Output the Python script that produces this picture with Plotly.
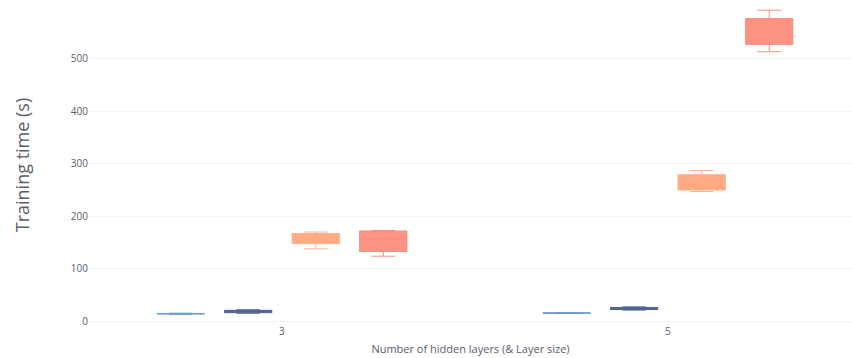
import plotly.graph_objects as go

# Hidden-layer configurations on the x axis
layers = ["3", "5"]

# Box statistics (seconds) per model, one value per layer configuration
series_names = ["Model A", "Model B", "Model C", "Model D"]
lower = [[13.5, 15.0], [15.5, 21.5], [138, 247], [124, 513]]
q1 = [[14.0, 15.3], [16.5, 22.5], [148, 250], [133, 527]]
median = [[14.6, 15.8], [19.0, 24.5], [163, 266], [156, 551]]
q3 = [[15.0, 16.3], [21.0, 26.5], [167, 279], [172, 576]]
upper = [[15.5, 16.8], [22.0, 27.5], [170, 287], [173, 592]]

line_colors = ["#6f9bcc", "#4f6591", "#ffb08c", "#f98e7d"]
fill_colors = ["#7aa3d1", "#566c97", "#ffaa80", "#fc9383"]

fig = go.Figure()
for i, name in enumerate(series_names):
    fig.add_trace(go.Box(
        name=name,
        x=layers,
        q1=q1[i],
        median=median[i],
        q3=q3[i],
        lowerfence=lower[i],
        upperfence=upper[i],
        line=dict(color=line_colors[i], width=1),
        fillcolor=fill_colors[i],
        boxpoints=False,
    ))

fig.update_layout(
    width=852,
    height=358,
    margin=dict(l=89, r=0, t=6, b=34),
    boxmode="group",
    boxgap=0.3,
    boxgroupgap=0.3,
    showlegend=False,
    plot_bgcolor="white",
    paper_bgcolor="white",
    font=dict(family="Open Sans", color="#5a606b"),
    xaxis=dict(
        type="category",
        range=[-0.5, 1.477],
        showgrid=False,
        zeroline=False,
        tickfont=dict(size=10, color="#5a606b"),
        title=dict(text="Number of hidden layers (& Layer size)",
                   font=dict(size=11, color="#5a606b"), standoff=8),
    ),
    yaxis=dict(
        range=[-5, 600],
        tickvals=[0, 100, 200, 300, 400, 500],
        gridcolor="#f3f3f3",
        zeroline=False,
        tickfont=dict(size=10, color="#5a606b"),
        title=dict(text="Training time (s)",
                   font=dict(size=18, color="#5a606b"), standoff=36),
    ),
)

fig.write_html("out.html")
